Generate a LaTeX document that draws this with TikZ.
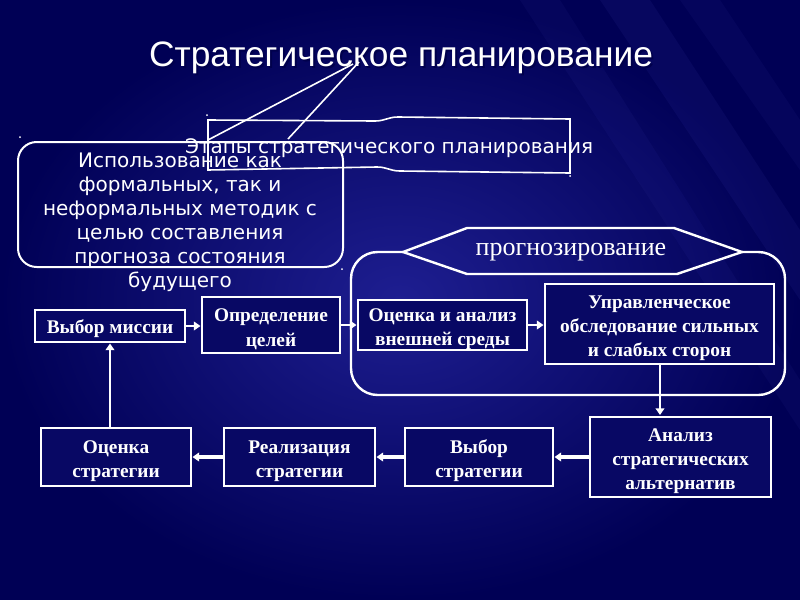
\documentclass[tikz,border=0pt]{standalone}
\usepackage{fontspec}
\setmainfont{Liberation Serif}
\newfontfamily\dvfont{DejaVu Sans}
\newfontfamily\lsfont{Liberation Sans}
\usetikzlibrary{arrows.meta}
\definecolor{bgdark}{RGB}{0,0,85}
\definecolor{bgmid}{RGB}{30,30,145}
\definecolor{boxfill}{RGB}{8,8,100}
\definecolor{streak}{RGB}{90,90,220}
\newcommand\topgap{\rule{0pt}{16pt}}
\begin{document}
\begin{tikzpicture}[x=0.75pt,y=-0.75pt,
  stepbox/.style={draw=white, line width=2.2pt, fill=boxfill, text=white,
    font=\bfseries\fontsize{14.5}{18.2}\selectfont, align=center, inner sep=0pt},
  flow/.style={draw=white, line width=2.2pt, -{Triangle[length=5pt,width=6.5pt]}},
  outline/.style={draw=white, line width=1.5pt},
  thin/.style={draw=white, line width=1.2pt},
  dvtext/.style={text=white, font=\dvfont\fontsize{15}{18}\selectfont, align=center, inner sep=0pt}
]
% background
\shade[inner color=bgmid, outer color=bgdark] (0,0) rectangle (800,600);
\fill[streak, opacity=0.08] (600,0) -- (650,0) -- (800,230) -- (800,300) -- cycle;
\fill[streak, opacity=0.06] (680,0) -- (720,0) -- (800,120) -- (800,170) -- cycle;
\fill[streak, opacity=0.06] (520,0) -- (560,0) -- (800,380) -- (800,430) -- cycle;
\useasboundingbox (0,0) rectangle (800,600);

% title
\node[text=black!70!blue, font=\lsfont\fontsize{26.5}{30}\selectfont] (titleshadow) at (403,60) {Стратегическое планирование};
\node[text=white, font=\lsfont\fontsize{26.5}{30}\selectfont] (title) at (401,58) {Стратегическое планирование};

% callout lines from title
\coordinate (apexA) at (353,64);
\coordinate (apexB) at (359,62);
\coordinate (tipA) at (208,140);
\coordinate (tipB) at (288,139);
\draw[thin] (apexA) -- (tipA);
\draw[thin] (apexB) -- (tipB);

% wavy banner
\draw[thin] (208,120) -- (375,121) .. controls (385,121) and (388,117) .. (398,117) -- (570,119)
  -- (570,173) -- (400,171) .. controls (390,171) and (387,167) .. (377,167) -- (208,170) -- cycle;
\node[dvtext] (stages) at (389,148) {Этапы стратегического планирования};

% rounded callout
\draw[outline, rounded corners=14pt] (18,142) rectangle (343,267);
\node[dvtext] (methods) at (180,222)
  {Использование как\\формальных, так и\\неформальных методик с\\целью составления\\прогноза состояния\\будущего};

% small handle dots
\fill[white] (20,137) circle (1);
\fill[white] (207,115) circle (1);
\fill[white] (570,176) circle (1);
\fill[white] (342,269) circle (1);

% forecasting group
\draw[outline, line width=1.8pt, rounded corners=20pt] (742,252) -- (785,252) -- (785,395) -- (351,395) -- (351,252) -- (403,252);
\draw[outline, line width=1.8pt] (403,252) -- (467,228) -- (674,228) -- (742,252) -- (677,274) -- (467,274) -- cycle;
\node[text=white, font=\fontsize{19.5}{22}\selectfont] (forecast) at (571,252) {прогнозирование};

% step boxes
\node[stepbox, minimum width=112.5pt, minimum height=24pt] (mission) at (110,326) {\rule{0pt}{14pt}Выбор миссии};
\node[stepbox, minimum width=103.5pt, minimum height=42pt] (goals) at (271,325) {\topgap Определение\\целей};
\node[stepbox, minimum width=126.75pt, minimum height=37.5pt] (env) at (442.5,325) {\topgap Оценка и анализ\\внешней среды};
\node[stepbox, minimum width=171.75pt, minimum height=60pt] (mgmt) at (659.5,324) {\topgap Управленческое\\обследование сильных\\и слабых сторон};
\node[stepbox, minimum width=135.75pt, minimum height=60pt] (alt) at (680.5,457) {\topgap Анализ\\стратегических\\альтернатив};
\node[stepbox, minimum width=111pt, minimum height=43.5pt] (choice) at (479,457) {\topgap Выбор\\стратегии};
\node[stepbox, minimum width=113.25pt, minimum height=43.5pt] (impl) at (299.5,457) {\topgap Реализация\\стратегии};
\node[stepbox, minimum width=112.5pt, minimum height=43.5pt] (eval) at (116,457) {\topgap Оценка\\стратегии};

% connectors
\draw[flow] (mission.east) -- (goals.west |- mission.east);
\draw[flow] (goals.east) -- (env.west |- goals.east);
\draw[flow] (env.east) -- (mgmt.west |- env.east);
\draw[flow] (660,364) -- (660,415);
\draw[flow, line width=2.8pt] (alt.west) -- (choice.east);
\draw[flow, line width=2.8pt] (choice.west) -- (impl.east);
\draw[flow, line width=2.8pt] (impl.west) -- (eval.east);
\draw[flow] (eval.north -| mission.south) -- (mission.south);
\end{tikzpicture}
\end{document}
